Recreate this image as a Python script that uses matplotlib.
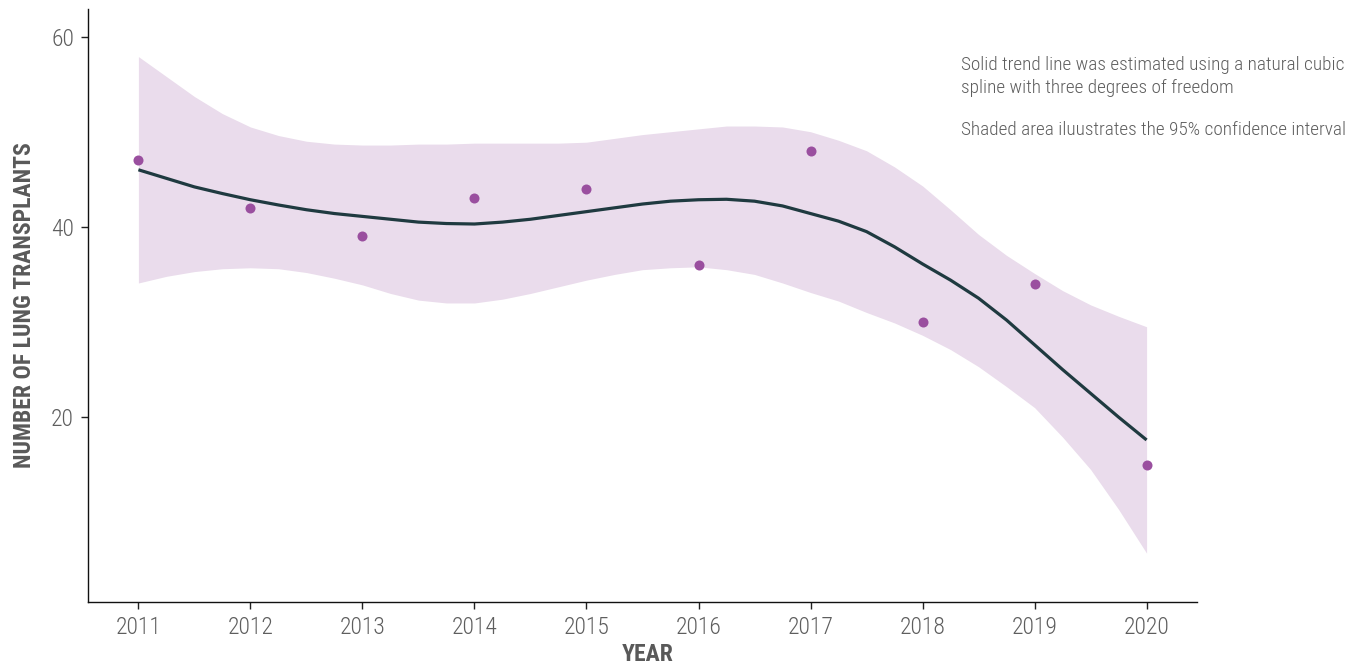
import matplotlib
matplotlib.use("Agg")
import numpy as np
import matplotlib.pyplot as plt

plt.rcParams["font.family"] = ["Roboto Condensed", "DejaVu Sans"]

# observed yearly counts
years = [2011, 2012, 2013, 2014, 2015, 2016, 2017, 2018, 2019, 2020]
transplants = [47, 42, 39, 43, 44, 36, 48, 30, 34, 15]

# spline fit and 95% band, sampled every quarter year
fit_x = [2011.00, 2011.25, 2011.50, 2011.75, 2012.00, 2012.25, 2012.50, 2012.75,
         2013.00, 2013.25, 2013.50, 2013.75, 2014.00, 2014.25, 2014.50, 2014.75,
         2015.00, 2015.25, 2015.50, 2015.75, 2016.00, 2016.25, 2016.50, 2016.75,
         2017.00, 2017.25, 2017.50, 2017.75, 2018.00, 2018.25, 2018.50, 2018.75,
         2019.00, 2019.25, 2019.50, 2019.75, 2020.00]
fit_y = [46.0, 45.1, 44.2, 43.5, 42.85, 42.3, 41.8, 41.4,
         41.1, 40.8, 40.5, 40.35, 40.3, 40.5, 40.8, 41.2,
         41.6, 42.0, 42.4, 42.7, 42.85, 42.9, 42.7, 42.2,
         41.4, 40.6, 39.5, 37.9, 36.1, 34.4, 32.5, 30.2,
         27.6, 25.0, 22.5, 20.0, 17.6]
ci_hi = [57.9, 55.8, 53.7, 51.9, 50.5, 49.6, 49.0, 48.7,
         48.6, 48.6, 48.7, 48.7, 48.8, 48.8, 48.8, 48.8,
         48.9, 49.3, 49.7, 50.0, 50.3, 50.6, 50.6, 50.5,
         50.0, 49.1, 48.0, 46.3, 44.3, 41.8, 39.2, 37.0,
         35.1, 33.3, 31.8, 30.6, 29.5]
ci_lo = [34.1, 34.8, 35.3, 35.6, 35.7, 35.6, 35.2, 34.6,
         33.9, 33.0, 32.3, 32.0, 32.0, 32.4, 33.0, 33.7,
         34.4, 35.0, 35.5, 35.7, 35.8, 35.5, 35.0, 34.1,
         33.1, 32.2, 31.0, 29.9, 28.6, 27.1, 25.3, 23.2,
         21.0, 17.9, 14.5, 10.3, 5.7]

y_ticks = [20, 40, 60]

text_col = "#5e5e5e"
title_col = "#595959"

fig = plt.figure(figsize=(13.7, 6.62), dpi=100)
ax = fig.add_axes([88 / 1370, 1 - 601.7 / 662, (1197 - 88) / 1370, (601.7 - 9) / 662])

ax.fill_between(fit_x, ci_lo, ci_hi, color="#eadcec", lw=0, zorder=1)
ax.plot(fit_x, fit_y, color="#1f3a40", lw=2.3, solid_capstyle="butt",
        solid_joinstyle="round", zorder=2)
ax.scatter(years, transplants, s=52, color="#9a4f9f", lw=0, zorder=3)

ax.set_xlim(2010.55, 2020.45)
ax.set_ylim(0.6, 62.9)
ax.set_xticks(years)
ax.set_xticklabels([str(y) for y in years])
ax.set_yticks(y_ticks)

for s in ["top", "right"]:
    ax.spines[s].set_visible(False)
for s in ["left", "bottom"]:
    ax.spines[s].set_color("#111111")
    ax.spines[s].set_linewidth(1.0)

ax.tick_params(axis="both", length=5, width=1, color="#222222",
               labelsize=17, labelcolor=text_col, pad=5)
for lab in ax.get_xticklabels() + ax.get_yticklabels():
    lab.set_fontweight("light")

ax.set_xlabel("YEAR", fontsize=17, fontweight="bold", color=title_col)
ax.xaxis.set_label_coords(0.5045, -0.069, transform=ax.transAxes)
ax.xaxis.label.set_va("top")
ax.set_ylabel("NUMBER OF LUNG TRANSPLANTS", fontsize=17, fontweight="bold",
              color=title_col, labelpad=11)

fig.text(961 / 1370, 1 - 56 / 662,
         "Solid trend line was estimated using a natural cubic\nspline with three degrees of freedom",
         fontsize=13.9, fontweight="light", color=text_col, ha="left", va="top",
         linespacing=1.38)
fig.text(961 / 1370, 1 - 121 / 662,
         "Shaded area iluustrates the 95% confidence interval",
         fontsize=13.9, fontweight="light", color=text_col, ha="left", va="top")

fig.savefig("out.png", dpi=100)
